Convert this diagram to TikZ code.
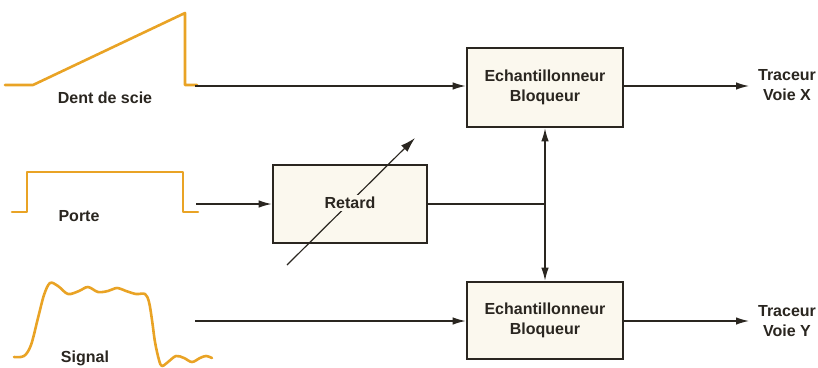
\documentclass[tikz,border=0pt]{standalone}
\usepackage{fontspec}
\setmainfont{Liberation Sans}
\usetikzlibrary{arrows.meta}
\definecolor{wave}{HTML}{E9A325}
\definecolor{boxfill}{HTML}{FBF8EE}
\definecolor{ink}{HTML}{2A2620}
\tikzset{
  blk/.style={draw=ink, line width=2.6pt, fill=boxfill, font=\bfseries\fontsize{16}{19.5}\selectfont, text=ink, align=center, inner sep=0pt},
  conn/.style={draw=ink, line width=1.3pt, -{Latex[length=13pt,width=7.5pt]}},
  plain/.style={draw=ink, line width=1.3pt},
  wv/.style={draw=wave, line width=2.6pt, line join=round, line cap=round},
  lbl/.style={font=\bfseries\fontsize{16}{19.5}\selectfont, text=ink, align=center, inner sep=0pt}
}
\begin{document}
\begin{tikzpicture}[x=1pt,y=-1pt]
\useasboundingbox (0,0) rectangle (818,367);
% blocks
\node[blk, minimum width=156pt, minimum height=79pt] (ech1) at (545,87.5) {Echantillonneur\\Bloqueur};
\node[blk, minimum width=156pt, minimum height=77pt] (ech2) at (545,320.5) {Echantillonneur\\Bloqueur};
\node[blk, minimum width=154pt, minimum height=78pt] (ret) at (350,204) {};
% variable arrow through Retard
\coordinate (ra) at (287,265);
\coordinate (rb) at (415,138);
\draw[conn, line width=1.2pt, -{Latex[length=15pt,width=9pt]}] (ra) -- (rb);
\node[lbl, fill=boxfill, inner sep=2pt] (rettxt) at (350,203) {Retard};
% waveforms
\draw[wv] (5,85) -- (33,85) -- (185,13) -- (185,85) -- (197,85);
\draw[wv] (12,212) -- (27,212) -- (27,172) -- (183,172) -- (183,212) -- (198,212);
\draw[wv] plot[smooth, tension=0.55] coordinates {
 (14,357) (24,356) (31,345) (38,318) (44,295) (50,283) (58,286) (68,294) (79,291) (88,287) (98,292) (108,291) (117,288) (126,291) (136,294) (145,294)
 (149,302) (152,320) (155,342) (159,360) (162,366) (168,362) (176,356) (184,358) (192,362) (200,358) (206,356) (212,358)};
% labels
\node[lbl] (ldent) at (105,98) {Dent de scie};
\node[lbl] (lporte) at (79,216) {Porte};
\node[lbl] (lsig) at (85,358) {Signal};
% inputs
\coordinate (sx) at (195,86);
\coordinate (px) at (196,204);
\coordinate (gx) at (195,321);
\draw[conn] (sx) -- (sx -| ech1.west);
\draw[conn] (px) -- (px -| ret.west);
\draw[conn] (gx) -- (gx -| ech2.west);
% junction
\coordinate (j) at (545,204);
\draw[plain] (ret.east |- j) -- (j);
\draw[conn] (j) -- (ech1.south);
\draw[conn] (j) -- (ech2.north);
% outputs
\node[lbl] (outx) at (787,85) {Traceur\\Voie X};
\node[lbl] (outy) at (787,321) {Traceur\\Voie Y};
\draw[conn] (ech1.east |- 0,86) -- (749,86);
\draw[conn] (ech2.east |- 0,321) -- (749,321);
\end{tikzpicture}
\end{document}
